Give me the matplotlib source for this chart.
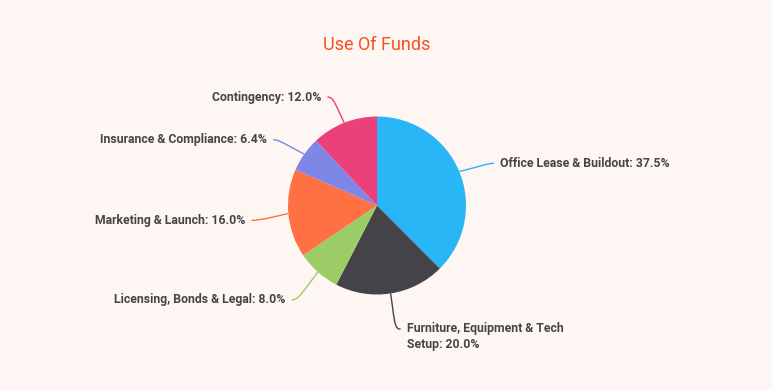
import numpy as np
import matplotlib.pyplot as plt
from matplotlib.path import Path
from matplotlib.patches import PathPatch

##################################################
## data
##################################################
labels = ['Office Lease & Buildout', 'Furniture, Equipment & Tech\nSetup',
          'Licensing, Bonds & Legal', 'Marketing & Launch',
          'Insurance & Compliance', 'Contingency']
shares = [37.5, 20.0, 8.0, 16.0, 6.4, 12.0]
colors = ['#29B6F6', '#434348', '#9CCC65', '#FF7043', '#7F87E6', '#EC407A']

bg = '#FEF6F3'
txt = '#454545'

##################################################
## figure
##################################################
fig = plt.figure(figsize=(7.72, 3.9), dpi=100, facecolor=bg)
ax = fig.add_axes([0, 0, 1, 1])

cx, cy, r = 377, 184.5, 89
wedges, _ = ax.pie(shares, colors=colors, startangle=90, counterclock=False,
                   center=(cx, cy), radius=r, frame=True,
                   wedgeprops=dict(linewidth=0))
ax.set_xlim(0, 772)
ax.set_ylim(0, 390)
ax.set_aspect('equal')
ax.axis('off')

# labels with soft connectors
for w, lab, s, c in zip(wedges, labels, shares, colors):
    a = np.deg2rad((w.theta1 + w.theta2) / 2)
    ca, sa = np.cos(a), np.sin(a)
    touch = np.array([cx + r * ca, cy + r * sa])
    brk = np.array([cx + (r + 14) * ca, cy + (r + 14) * sa - 2])
    lx, ly = cx + (r + 32) * ca, cy + (r + 32) * sa - 4
    right = ca >= 0
    start = np.array([lx + (5 if right else -5), ly])
    verts = [start, np.array([lx, ly]), 2 * brk - touch, brk, touch]
    codes = [Path.MOVETO, Path.CURVE4, Path.CURVE4, Path.CURVE4, Path.LINETO]
    ax.add_patch(PathPatch(Path(verts, codes), fill=False, edgecolor=c, lw=1))
    va = 'top' if '\n' in lab else 'center'
    ty = ly + 7 if '\n' in lab else ly
    ax.text(lx + (11 if right else -11), ty, f'{lab}: {s:.1f}%',
            ha='left' if right else 'right', va=va, fontsize=8.8,
            fontweight='bold', color=txt, family='Roboto', linespacing=1.3)

fig.text(377 / 772, 1 - 45 / 390, 'Use Of Funds', ha='center', va='center',
         fontsize=13, color='#F4511E', family='Roboto')

fig.savefig('out.png', dpi=100, facecolor=bg)
